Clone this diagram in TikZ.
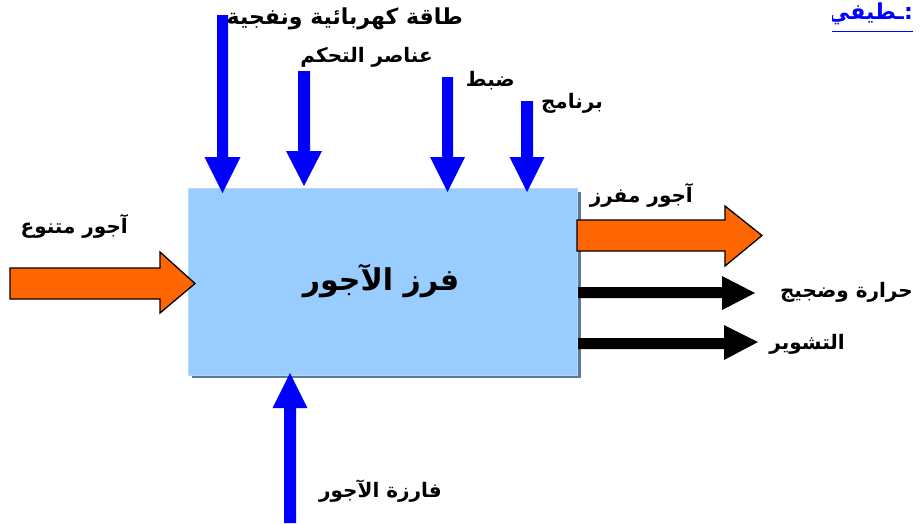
\documentclass[tikz,border=0pt]{standalone}
\usepackage{fontspec}
\TeXXeTstate=1
\newfontfamily\arabicfont[Script=Arabic]{DejaVu Sans}
\definecolor{arrorange}{RGB}{255,102,0}
\definecolor{boxfill}{RGB}{153,204,255}
\definecolor{boxshadow}{RGB}{92,122,153}
\definecolor{boxedge}{RGB}{180,215,255}
\newcommand{\blkdown}[6]{% cx, top, headbase, tip, shaft half, head half
  \fill[bluearr] (#1-#5,#2) -- (#1+#5,#2) -- (#1+#5,#3) -- (#1+#6,#3) -- (#1,#4) -- (#1-#6,#3) -- (#1-#5,#3) -- cycle;}
\begin{document}
\begin{tikzpicture}[x=1pt,y=-1pt,
  bluearr/.style={fill=blue},
  orangearr/.style={fill=arrorange, draw=black, line width=1.3pt, line join=miter},
  blackarr/.style={fill=black},
  lbl/.style={font=\arabicfont\bfseries\fontsize{20}{24}\selectfont, inner sep=0pt, anchor=east},
  ]
\useasboundingbox (0,0) rectangle (921,523);
% main box
\fill[boxshadow] (192,192) rectangle (581,378);
\node[draw=boxedge, fill=boxfill, line width=1pt, minimum width=389pt, minimum height=187pt, inner sep=0pt, anchor=north west] (box) at (188,188) {};
\node[font=\arabicfont\bfseries\fontsize{30}{34}\selectfont, inner sep=0pt] (title) at (381,281) {\beginR فرز الآجور\endR};
% top blue arrows
\blkdown{222.5}{15}{157}{193}{5.5}{18}
\blkdown{304}{71}{151}{186}{6}{18}
\blkdown{447.5}{77}{157}{192}{5.5}{17.5}
\blkdown{527}{101}{157}{192}{6}{17.5}
% bottom blue arrow (up)
\fill[bluearr] (284,523) -- (296,523) -- (296,408) -- (307.5,408) -- (290,373) -- (272.5,408) -- (284,408) -- cycle;
% left orange arrow
\draw[orangearr] (10,268) -- (160,268) -- (160,252) -- (195,283.5) -- (160,313) -- (160,299) -- (10,299) -- cycle;
% right orange arrow
\draw[orangearr] (577,220) -- (725,220) -- (725,206) -- (762,235.5) -- (725,266) -- (725,251) -- (577,251) -- cycle;
% black arrows
\fill[blackarr] (578,287) -- (722,287) -- (722,276) -- (755,293) -- (722,310) -- (722,298) -- (578,298) -- cycle;
\fill[blackarr] (578,338) -- (724,338) -- (724,325) -- (758,342) -- (724,360) -- (724,349) -- (578,349) -- cycle;
% labels
\node[lbl, font=\arabicfont\bfseries\fontsize{22}{26}\selectfont] (l1) at (463,19) {\beginR طاقة كهربائية ونفجية\endR};
\node[lbl] (l2) at (433,57) {\beginR عناصر التحكم\endR};
\node[lbl] (l3) at (515,81) {\beginR ضبط\endR};
\node[lbl] (l4) at (603,103) {\beginR برنامج\endR};
\node[lbl] (l5) at (128,226) {\beginR آجور متنوع\endR};
\node[lbl] (l6) at (693,195) {\beginR آجور مفرز\endR};
\node[lbl] (l7) at (913,292) {\beginR حرارة وضجيج\endR};
\node[lbl] (l8) at (845,344) {\beginR التشوير\endR};
\node[lbl] (l9) at (442,491) {\beginR فارزة الآجور\endR};
% top-right cut heading
\begin{scope}
\clip (832,0) rectangle (921,40);
\node[lbl, text=blue, font=\arabicfont\bfseries\fontsize{22}{26}\selectfont] (hd) at (913,14) {\beginR ـطيفي\endR:};
\draw[blue, line width=1pt] (832,31) -- (913,31);
\end{scope}
\end{tikzpicture}
\end{document}
